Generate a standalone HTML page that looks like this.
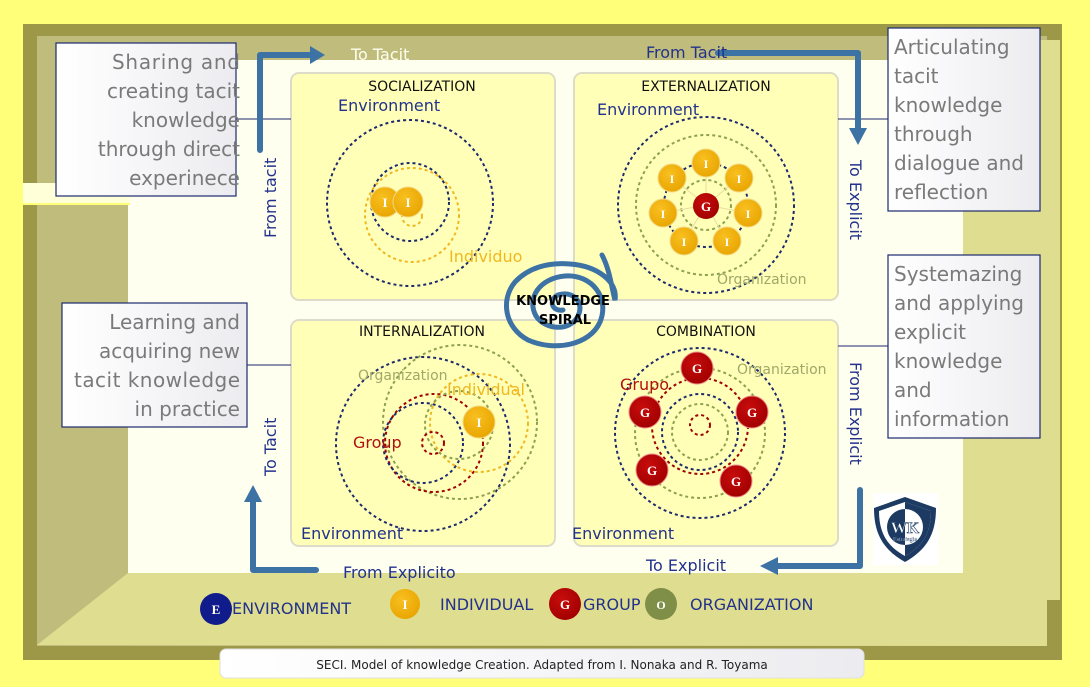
<!DOCTYPE html>
<html><head><meta charset="utf-8"><style>
html,body{margin:0;padding:0;background:#ffff7a;}
svg{display:block;font-family:"DejaVu Sans","Liberation Sans",sans-serif;}
.bx{font-family:"DejaVu Sans",sans-serif;font-size:20px;fill:#7a7a7a;}
</style></head><body>
<svg width="1090" height="687" viewBox="0 0 1090 687" xmlns="http://www.w3.org/2000/svg">
<defs>
<linearGradient id="tb" x1="0" x2="1"><stop offset="0" stop-color="#ffffff"/><stop offset="1" stop-color="#ececf0"/></linearGradient>
<radialGradient id="gy" cx="0.4" cy="0.35" r="0.7"><stop offset="0" stop-color="#f8c020"/><stop offset="1" stop-color="#e8a400"/></radialGradient>
<radialGradient id="gr" cx="0.4" cy="0.35" r="0.7"><stop offset="0" stop-color="#c80c0c"/><stop offset="1" stop-color="#a00000"/></radialGradient>
</defs>
<!-- frame -->
<rect x="0" y="0" width="1090" height="687" fill="#ffff7a"/>
<rect x="23" y="24" width="1040" height="636" fill="#9c9848"/>
<rect x="37" y="36" width="1010" height="610" fill="#c0bd7c"/>
<rect x="960" y="40" width="100" height="560" fill="#dfdd8f"/>
<rect x="128" y="60" width="835" height="513" fill="#fffff0"/>
<polygon points="37,645 128,573 1047,573 1047,646" fill="#dfdd8f"/>
<rect x="0" y="183" width="130" height="22" fill="#ffff7a"/>
<rect x="0" y="183" width="160" height="20" fill="#fffff0" opacity="0.8"/>
<rect x="0" y="660" width="1090" height="27" fill="#ffff7a"/>
<rect x="1062" y="0" width="28" height="687" fill="#ffff7a"/>
<rect x="0" y="0" width="1090" height="24" fill="#ffff7a"/>
<rect x="0" y="0" width="23" height="687" fill="#ffff7a"/>

<!-- quadrants -->
<g fill="#ffffb8" stroke="#dcdcc8" stroke-width="2">
<rect x="291" y="73" width="264" height="227" rx="8"/>
<rect x="574" y="73" width="264" height="227" rx="8"/>
<rect x="291" y="320" width="264" height="226" rx="8"/>
<rect x="574" y="320" width="264" height="226" rx="8"/>
</g>
<g font-size="14" fill="#111" text-anchor="middle">
<text x="422" y="91">SOCIALIZATION</text>
<text x="706" y="91">EXTERNALIZATION</text>
<text x="422" y="336">INTERNALIZATION</text>
<text x="706" y="336">COMBINATION</text>
</g>

<!-- connector lines -->
<g stroke="#1c2a6e" stroke-width="1">
<line x1="236" y1="119" x2="291" y2="119"/>
<line x1="247" y1="365" x2="291" y2="365"/>
<line x1="838" y1="119" x2="888" y2="119"/>
<line x1="838" y1="346" x2="888" y2="346"/>
</g>

<!-- text boxes -->
<g stroke="#1c2a6e" stroke-width="1.2" fill="url(#tb)">
<rect x="56" y="43" width="180" height="153"/>
<rect x="62" y="303" width="185" height="124"/>
<rect x="888" y="28" width="152" height="183"/>
<rect x="888" y="255" width="152" height="183"/>
</g>
<g class="bx" text-anchor="end">
<text x="240" y="69" textLength="128">Sharing and</text>
<text x="240" y="98">creating tacit</text>
<text x="240" y="127">knowledge</text>
<text x="240" y="156">through direct</text>
<text x="240" y="185">experinece</text>
<text x="240" y="329">Learning and</text>
<text x="240" y="358">acquiring new</text>
<text x="240" y="387" textLength="166">tacit knowledge</text>
<text x="240" y="416">in practice</text>
</g>
<g class="bx">
<text x="894" y="54">Articulating</text>
<text x="894" y="83">tacit</text>
<text x="894" y="112">knowledge</text>
<text x="894" y="141">through</text>
<text x="894" y="170">dialogue and</text>
<text x="894" y="199">reflection</text>
<text x="894" y="281">Systemazing</text>
<text x="894" y="310">and applying</text>
<text x="894" y="339">explicit</text>
<text x="894" y="368">knowledge</text>
<text x="894" y="397">and</text>
<text x="894" y="426">information</text>
</g>

<!-- arrows -->
<g stroke="#3d72a4" stroke-width="6" fill="none" stroke-linejoin="round" stroke-linecap="round">
<polyline points="260,150 260,55 312,55"/>
<polyline points="718,53 858,53 858,130"/>
<polyline points="860,490 860,566 775,566"/>
<polyline points="316,570 253,570 253,500"/>
</g>
<g fill="#3d72a4">
<polygon points="310,46 325,55 310,64"/>
<polygon points="849,128 858,145 867,128"/>
<polygon points="778,557 760,566 778,575"/>
<polygon points="244,502 253,485 262,502"/>
</g>
<g fill="#22328c" font-size="16">
<text x="351" y="60" fill="#fffff0">To Tacit</text>
<text x="646" y="58">From Tacit</text>
<text x="646" y="571">To Explicit</text>
<text x="343" y="578">From Explicito</text>
<text transform="translate(276,238) rotate(-90)">From tacit</text>
<text transform="translate(276,476) rotate(-90)">To Tacit</text>
<text transform="translate(850,160) rotate(90)">To Explicit</text>
<text transform="translate(850,362) rotate(90)">From Explicit</text>
</g>

<!-- Socialization -->
<g fill="none" stroke-dasharray="3,3" stroke-width="2">
<circle cx="410" cy="203" r="83" stroke="#1c2a6e"/>
<circle cx="410" cy="202" r="39" stroke="#1c2a6e"/>
<circle cx="412" cy="215" r="47" stroke="#f0b820"/>
<circle cx="412" cy="216" r="10" stroke="#f0b820"/>
</g>
<circle cx="385" cy="202" r="15" fill="url(#gy)" stroke="#f4d880"/>
<circle cx="408" cy="202" r="15" fill="url(#gy)" stroke="#f4d880"/>
<g font-family="Liberation Serif,serif" font-weight="bold" fill="#fff" font-size="13" text-anchor="middle">
<text x="385" y="207">I</text><text x="408" y="207">I</text>
</g>
<text x="338" y="111" fill="#22328c" font-size="16">Environment</text>
<text x="449" y="262" fill="#f0b820" font-size="16">Individuo</text>

<!-- Externalization -->
<g fill="none" stroke-dasharray="3,3" stroke-width="2">
<circle cx="706" cy="205" r="88" stroke="#1c2a6e"/>
<circle cx="706" cy="205" r="70" stroke="#8ea050"/>
<circle cx="706" cy="205" r="42" stroke="#1c2a6e"/>
<circle cx="706" cy="205" r="25" stroke="#8ea050"/>
</g>
<g stroke="#e8dca0" stroke-width="1">
<line x1="706" y1="205" x2="706" y2="163"/><line x1="706" y1="205" x2="739" y2="178"/>
<line x1="706" y1="205" x2="748" y2="213"/><line x1="706" y1="205" x2="727" y2="241"/>
<line x1="706" y1="205" x2="684" y2="241"/><line x1="706" y1="205" x2="663" y2="213"/>
<line x1="706" y1="205" x2="672" y2="178"/>
</g>
<g fill="url(#gy)" stroke="#f4d880">
<circle cx="706" cy="163" r="14"/><circle cx="739" cy="178" r="14"/><circle cx="748" cy="213" r="14"/>
<circle cx="727" cy="241" r="14"/><circle cx="684" cy="241" r="14"/><circle cx="663" cy="213" r="14"/>
<circle cx="672" cy="178" r="14"/>
</g>
<circle cx="706" cy="206" r="13" fill="url(#gr)"/>
<g font-family="Liberation Serif,serif" font-weight="bold" fill="#fff" font-size="12" text-anchor="middle">
<text x="706" y="168">I</text><text x="739" y="183">I</text><text x="748" y="218">I</text>
<text x="727" y="246">I</text><text x="684" y="246">I</text><text x="663" y="218">I</text><text x="672" y="183">I</text>
<text x="706" y="211" font-size="13">G</text>
</g>
<text x="597" y="115" fill="#22328c" font-size="16">Environment</text>
<text x="717" y="284" fill="#a0a868" font-size="14">Organization</text>

<!-- Internalization -->
<g fill="none" stroke-dasharray="3,3" stroke-width="2">
<circle cx="423" cy="444" r="87" stroke="#1c2a6e"/>
<circle cx="460" cy="422" r="77" stroke="#8ea050"/>
<circle cx="434" cy="443" r="49" stroke="#a00000"/>
<circle cx="423" cy="443" r="40" stroke="#1c2a6e"/>
<circle cx="479" cy="423" r="49" stroke="#f0b820"/>
<circle cx="459" cy="425" r="34" stroke="#8ea050"/>
<circle cx="433" cy="443" r="11" stroke="#a00000"/>
</g>
<circle cx="479" cy="422" r="16" fill="url(#gy)" stroke="#f4d880"/>
<text x="479" y="427" font-family="Liberation Serif,serif" font-weight="bold" fill="#fff" font-size="13" text-anchor="middle">I</text>
<text x="358" y="380" fill="#a0a868" font-size="14">Organization</text>
<text x="447" y="395" fill="#f0b820" font-size="16">Individual</text>
<text x="353" y="448" fill="#b01010" font-size="16">Group</text>
<text x="301" y="539" fill="#22328c" font-size="16">Environment</text>

<!-- Combination -->
<g fill="none" stroke-dasharray="3,3" stroke-width="2">
<circle cx="700" cy="433" r="85" stroke="#1c2a6e"/>
<circle cx="700" cy="433" r="65" stroke="#8ea050"/>
<circle cx="700" cy="426" r="48" stroke="#a00000"/>
<circle cx="700" cy="432" r="38" stroke="#1c2a6e"/>
<circle cx="700" cy="432" r="28" stroke="#8ea050"/>
<circle cx="700" cy="425" r="10" stroke="#a00000"/>
</g>
<g fill="url(#gr)" stroke="#e88">
<circle cx="697" cy="368" r="16"/><circle cx="645" cy="412" r="16"/><circle cx="752" cy="412" r="16"/>
<circle cx="652" cy="470" r="16"/><circle cx="736" cy="481" r="16"/>
</g>
<g font-family="Liberation Serif,serif" font-weight="bold" fill="#fff" font-size="13" text-anchor="middle">
<text x="697" y="373">G</text><text x="645" y="417">G</text><text x="752" y="417">G</text>
<text x="652" y="475">G</text><text x="736" y="486">G</text>
</g>
<text x="737" y="374" fill="#a0a868" font-size="14">Organization</text>
<text x="620" y="390" fill="#b01010" font-size="16">Grupo</text>
<text x="572" y="539" fill="#22328c" font-size="16">Environment</text>

<!-- spiral -->
<path d="M563,310 C552,312 548,300 558,295 C572,290 585,302 578,316 C570,332 545,330 536,316 C526,298 540,278 565,276 C592,274 610,298 600,322 C590,345 555,352 528,340 C505,328 500,300 515,282 C528,268 548,262 570,264 C598,266 618,282 615,300 C612,290 610,270 602,255" fill="none" stroke="#3d72a4" stroke-width="5" stroke-linecap="round"/>
<g font-size="13" font-weight="bold" fill="#000" text-anchor="middle">
<text x="563" y="305">KNOWLEDGE</text><text x="565" y="324">SPIRAL</text>
</g>

<!-- logo -->
<rect x="873" y="493" width="65" height="72" fill="#fff"/>
<path d="M905,497 L936,508 C936,535 926,550 905,562 C884,550 874,535 874,508 Z" fill="#1c3a62"/>
<path d="M905,502 L931,511 C931,533 923,546 905,556 C887,546 879,533 879,511 Z" fill="#fff"/>
<path d="M905,502 L905,556 C923,546 931,533 931,511 Z" fill="#1c3a62"/>
<circle cx="905" cy="527" r="18" fill="#fff"/>
<path d="M905,509 A18,18 0 0 0 905,545 Z" fill="#1c3a62"/>
<text x="905" y="533" font-family="Liberation Serif,serif" font-weight="bold" font-size="16" fill="#fff" text-anchor="middle" stroke="#1c3a62" stroke-width="0.6">WK</text>
<text x="905" y="541" font-family="Liberation Serif,serif" font-size="6" fill="#fff" text-anchor="middle" stroke="#1c3a62" stroke-width="0.2">Estrategia</text>

<!-- legend -->
<circle cx="216" cy="609" r="16" fill="#101c8c"/>
<text x="216" y="614" font-family="Liberation Serif,serif" font-weight="bold" fill="#fff" font-size="13" text-anchor="middle">E</text>
<text x="232" y="614" fill="#22328c" font-size="16">ENVIRONMENT</text>
<circle cx="405" cy="604" r="15" fill="url(#gy)"/>
<text x="405" y="609" font-family="Liberation Serif,serif" font-weight="bold" fill="#fff" font-size="13" text-anchor="middle">I</text>
<text x="440" y="610" fill="#22328c" font-size="16">INDIVIDUAL</text>
<circle cx="565" cy="604" r="16" fill="url(#gr)"/>
<text x="565" y="609" font-family="Liberation Serif,serif" font-weight="bold" fill="#fff" font-size="13" text-anchor="middle">G</text>
<text x="583" y="610" fill="#22328c" font-size="16">GROUP</text>
<circle cx="661" cy="604" r="16" fill="#7f8f48"/>
<text x="661" y="609" font-family="Liberation Serif,serif" font-weight="bold" fill="#fff" font-size="12" text-anchor="middle">O</text>
<text x="690" y="610" fill="#22328c" font-size="16">ORGANIZATION</text>

<!-- footer -->
<rect x="220" y="649" width="644" height="29" rx="6" fill="url(#tb)" stroke="#e0e0e0"/>
<text x="542" y="669" font-family="DejaVu Sans,sans-serif" font-size="12" fill="#222" text-anchor="middle">SECI. Model of knowledge Creation. Adapted from I. Nonaka and R. Toyama</text>
</svg>
</body></html>
